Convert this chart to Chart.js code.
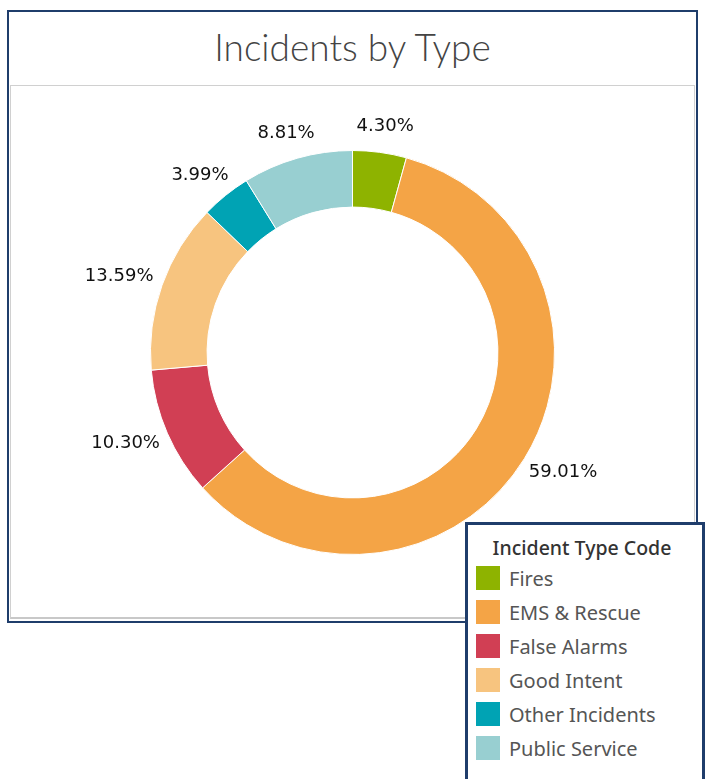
<!DOCTYPE html>
<html>
<head>
<meta charset="utf-8">
<script src="https://cdn.jsdelivr.net/npm/chart.js@4"></script>
<style>
  body { margin: 0; background: #fff; font-family: "Noto Sans", sans-serif; }
  #frame { position: absolute; left: 7px; top: 10px; width: 687px; height: 609px; border: 2px solid #1f3d6b; }
  #title { position: absolute; left: 0; top: 12px; width: 100%; text-align: center; font-family: Lato, sans-serif; font-weight: 300; font-size: 37px; color: #444; }
  #plot { position: absolute; left: 1px; top: 73px; width: 683px; height: 531px; border: 1px solid #d0d0d0; border-bottom: 2px solid #c8c8c8; }
  #wrap { position: absolute; left: 10px; top: 86px; width: 685px; height: 533px; }
  #legend { position: absolute; left: 465px; top: 522px; width: 240px; height: 260px; border: 3px solid #1f3d6b; border-bottom: none; background: #fff; box-sizing: border-box; }
  #legend h4 { margin: 9px 0 0 0; font-size: 19.5px; font-weight: 500; color: #333; text-align: center; padding-right: 6px; }
  .item { height: 34px; display: flex; align-items: center; font-size: 20px; color: #555; }
  .sw { width: 24px; height: 24px; margin-left: 8px; margin-right: 9px; }
</style>
</head>
<body>
<div id="frame">
  <div id="title">Incidents by Type</div>
  <div id="plot"></div>
</div>
<div id="wrap"><canvas id="donut"></canvas></div>
<div id="legend"><h4>Incident Type Code</h4><div id="items"></div></div>
<script>
const categories = ['Fires', 'EMS & Rescue', 'False Alarms', 'Good Intent', 'Other Incidents', 'Public Service'];
const shares = [4.30, 59.01, 10.30, 13.59, 3.99, 8.81];
const colors = ['#8eb300', '#f4a446', '#d13f54', '#f7c47f', '#00a3b4', '#98cfd1'];

// legend built from the same arrays
const items = document.getElementById('items');
categories.forEach((c, i) => {
    const row = document.createElement('div');
    row.className = 'item';
    row.innerHTML = `<div class="sw" style="background:${colors[i]}"></div>${c}`;
    items.appendChild(row);
});

// percent labels outside the ring
const outsideLabels = {
    id: 'outsideLabels',
    afterDatasetsDraw(chart) {
        const ctx = chart.ctx;
        const meta = chart.getDatasetMeta(0);
        ctx.save();
        ctx.font = '18px "DejaVu Sans", sans-serif';
        ctx.fillStyle = '#111';
        ctx.textAlign = 'center';
        ctx.textBaseline = 'middle';
        meta.data.forEach((arc, i) => {
            const txt = shares[i].toFixed(2) + '%';
            const w = ctx.measureText(txt).width;
            const mid = (arc.startAngle + arc.endAngle) / 2;
            const ux = Math.cos(mid), uy = Math.sin(mid);
            const r = arc.outerRadius + 18;
            const x = arc.x + ux * r + ux * w * 0.4;
            const y = arc.y + uy * r + uy * 8;
            ctx.fillText(txt, x, y);
        });
        ctx.restore();
    }
};

new Chart(document.getElementById('donut'), {
    type: 'doughnut',
    data: {
        labels: categories,
        datasets: [{
            data: shares,
            backgroundColor: colors,
            borderColor: '#fff',
            borderWidth: 1
        }]
    },
    options: {
        responsive: true,
        maintainAspectRatio: false,
        animation: false,
        radius: 202,
        cutout: '72%',
        plugins: { legend: { display: false }, tooltip: { enabled: false } }
    },
    plugins: [outsideLabels]
});
</script>
</body>
</html>
